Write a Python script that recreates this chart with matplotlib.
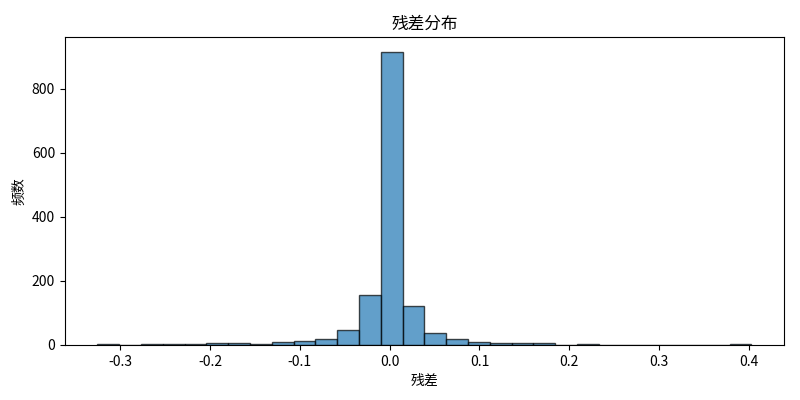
import numpy as np
from matplotlib import pyplot as plt

plt.rcParams['font.family'] = ['Noto Sans CJK SC', 'DejaVu Sans']
plt.rcParams['axes.unicode_minus'] = False

# residual histogram, 30 bins, counts
res_min = -0.3252
res_max = 0.4026
counts = [3, 0, 2, 2, 2, 6, 6, 2, 10, 14, 20, 48, 156, 915, 121,
          39, 20, 10, 6, 6, 5, 0, 2, 0, 0, 0, 0, 0, 0, 2]

edges = np.linspace(res_min, res_max, len(counts) + 1)
centers = (edges[:-1] + edges[1:]) / 2

fig, ax = plt.subplots(figsize=(8, 4), dpi=100)
ax.hist(centers, bins=edges, weights=counts, color='C0', alpha=0.7,
        edgecolor='black')
ax.set_title('残差分布', fontsize=12)
ax.set_xlabel('残差')
ax.set_ylabel('频数')
plt.subplots_adjust(left=0.081, right=0.98, top=0.907, bottom=0.1375)
plt.savefig('out.png')
